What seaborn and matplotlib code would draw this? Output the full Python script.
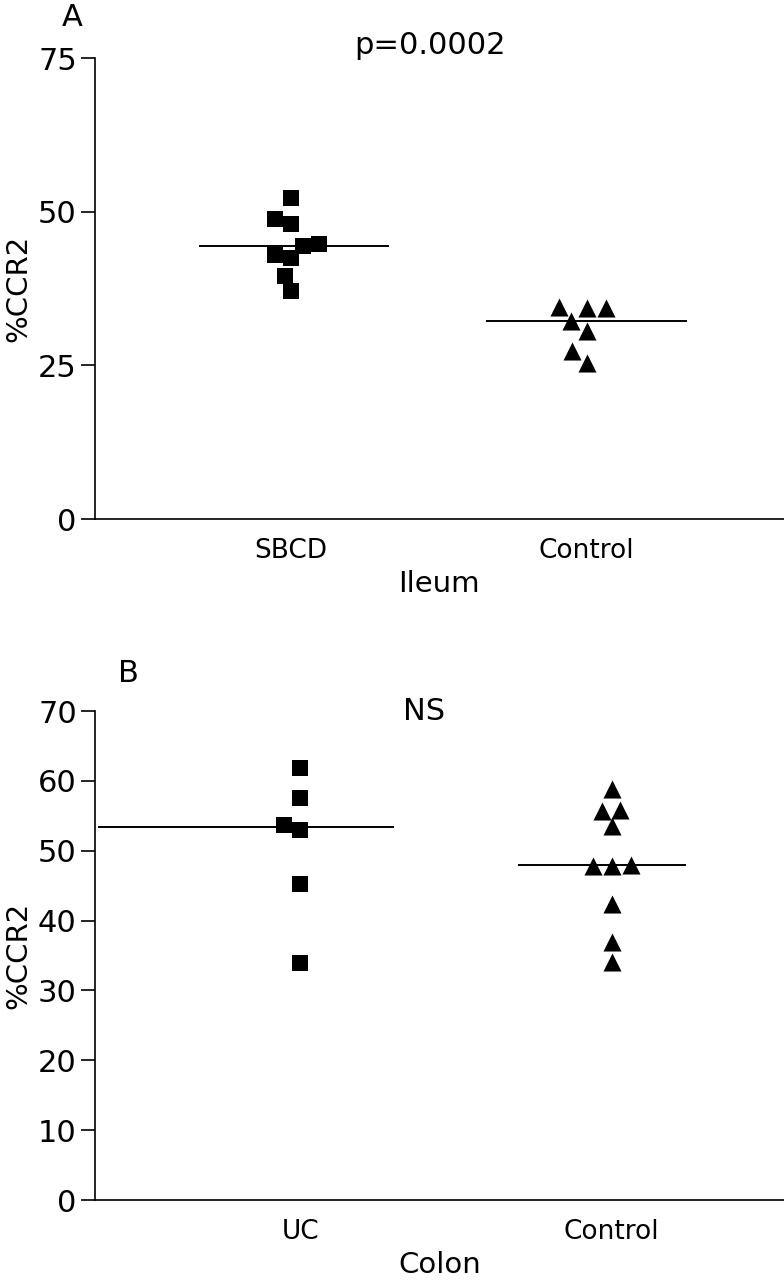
import pandas as pd
import seaborn as sns
import matplotlib.pyplot as plt

# Panel A - ileum
ileum_groups = ["SBCD", "Control"]
ileum_sbcd = [52.3, 48.8, 48.0, 44.4, 44.7, 42.9, 42.5, 39.5, 37.1]
ileum_control = [34.5, 34.4, 34.4, 32.3, 30.6, 27.3, 25.4]

# Panel B - colon
colon_groups = ["UC", "Control"]
colon_uc = [61.9, 57.5, 53.7, 53.0, 45.3, 33.9]
colon_control = [58.9, 55.8, 55.7, 53.5, 47.8, 47.8, 48.0, 42.4, 37.0, 34.1]

sns.set_style("white")
plt.rcParams['font.family'] = ['DejaVu Sans']
for k in ["text.color", "axes.labelcolor", "xtick.color", "ytick.color"]:
    plt.rcParams[k] = "black"


def make_df(groups, a, b):
    return pd.DataFrame({
        "group": [groups[0]] * len(a) + [groups[1]] * len(b),
        "value": a + b,
    })


def draw_panel(ax, df, groups, markers, sizes, line_ext, xlim, ylim, yticks, xlabel):
    for g, m, s in zip(groups, markers, sizes):
        sns.swarmplot(data=df[df["group"] == g], x="group", y="value", order=groups,
                      marker=m, color="black", size=s, linewidth=0, ax=ax)
    meds = df.groupby("group")["value"].median()
    for i, g in enumerate(groups):
        lo, hi = line_ext[i]
        ax.hlines(meds[g], i + lo, i + hi, color="black", lw=1.4)
    ax.set_xlim(*xlim)
    ax.set_ylim(*ylim)
    ax.set_yticks(yticks)
    ax.tick_params(axis="y", direction="out", length=10, width=1.2, labelsize=22, pad=3, left=True)
    ax.tick_params(axis="x", length=0, labelsize=19, pad=14)
    ax.set_xlabel(xlabel, fontsize=21, labelpad=4)
    ax.set_ylabel("%CCR2", fontsize=21)
    ax.yaxis.set_label_coords(-0.09, 0.5)
    sns.despine(ax=ax)
    for sp in ["left", "bottom"]:
        ax.spines[sp].set_linewidth(1.2)
        ax.spines[sp].set_color("black")


fig = plt.figure(figsize=(7.84, 12.8), dpi=100)
ax1 = fig.add_axes([0.121, 0.5945, 0.879, 0.360])
ax2 = fig.add_axes([0.121, 0.0625, 0.879, 0.382])

draw_panel(ax1, make_df(ileum_groups, ileum_sbcd, ileum_control), ileum_groups,
           ["s", "^"], [11.5, 13], [(-0.31, 0.33), (-0.34, 0.34)],
           (-0.664, 1.668), (0, 75), [0, 25, 50, 75], "Ileum")
draw_panel(ax2, make_df(colon_groups, colon_uc, colon_control), colon_groups,
           ["s", "^"], [11.5, 13], [(-0.65, 0.30), (-0.30, 0.24)],
           (-0.659, 1.553), (0, 70), range(0, 71, 10), "Colon")

fig.text(72 / 784, 1 - 18 / 1280, "A", fontsize=22, ha="center", va="center")
fig.text(430 / 784, 1 - 45 / 1280, "p=0.0002", fontsize=22, ha="center", va="center")
fig.text(128 / 784, 1 - 673 / 1280, "B", fontsize=22, ha="center", va="center")
fig.text(424 / 784, 1 - 711 / 1280, "NS", fontsize=22, ha="center", va="center")

fig.savefig("out.png", dpi=100)
